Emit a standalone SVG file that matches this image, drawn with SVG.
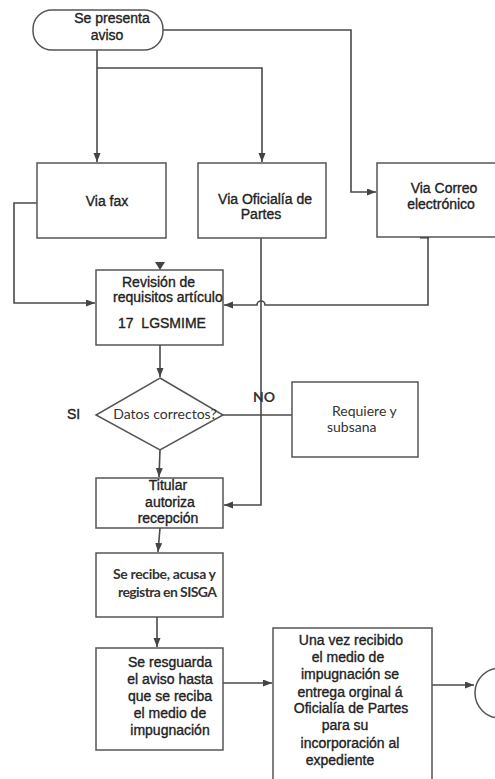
<svg xmlns="http://www.w3.org/2000/svg" width="495" height="779" viewBox="0 0 495 779">
  <defs>
    <marker id="arrow" markerUnits="userSpaceOnUse" markerWidth="10" markerHeight="8" refX="9" refY="3.5" orient="auto">
      <path d="M0,0 L9,3.5 L0,7 z" fill="#444"/>
    </marker>
    <style>
      .box { fill: #fff; stroke: #555; stroke-width: 1.5; }
      .line { fill: none; stroke: #4a4a4a; stroke-width: 1.6; }
      .arr { marker-end: url(#arrow); }
      .t { font-family: "Liberation Sans", Arial, sans-serif; font-size: 14px; fill: #222; stroke: #222; stroke-width: 0.35; }
      .c { font-family: Lato, "Open Sans", sans-serif; font-size: 14px; fill: #333; }
      .mid { text-anchor: middle; }
    </style>
  </defs>

  <rect width="495" height="779" fill="#fff"/>

  <!-- connectors -->
  <g id="connectors">
    <path class="line arr" d="M97,50 V162"/>
    <path class="line arr" d="M97,68 H262 V162"/>
    <path class="line arr" d="M163,30 H351 V192 H376"/>
    <path class="line arr" d="M37,203 H14 V303 H95"/>
    <path class="line arr" d="M428,237 V305 H265 A4,4 0 0 0 257,305 H224"/>
    <path class="line arr" d="M261,238 V505 H224"/>
    <path class="line arr" d="M160,345 V377"/>
    <path class="line" d="M223,415 H292"/>
    <path class="line arr" d="M160,450 L159,477"/>
    <path class="line arr" d="M160,528 L158,552"/>
    <path class="line arr" d="M157,617 V647"/>
    <path class="line arr" d="M223,683 H272"/>
    <path class="line arr" d="M422,685 H474"/>
    <path d="M155,262 L165,262 L160,270 z" fill="#444"/>
    <path d="M420,237 H429" stroke="#333" stroke-width="3"/>
  </g>

  <g id="start">
    <rect class="box" x="33" y="10" width="130" height="40" rx="19" ry="19"/>
    <text class="t mid" x="112" y="23">Se presenta</text>
    <text class="t mid" x="107" y="40">aviso</text>
  </g>

  <g id="via-fax">
    <rect class="box" x="37" y="163" width="129" height="75"/>
    <text class="t mid" x="107" y="206">Via fax</text>
  </g>

  <g id="via-oficialia">
    <rect class="box" x="198" y="163" width="128" height="75"/>
    <text class="t mid" x="265" y="204">Via Oficialía de</text>
    <text class="t mid" x="261" y="219">Partes</text>
  </g>

  <g id="via-correo">
    <rect class="box" x="377" y="163" width="130" height="74"/>
    <text class="t mid" x="444" y="193">Via Correo</text>
    <text class="t mid" x="441" y="209">electrónico</text>
  </g>

  <g id="revision">
    <rect class="box" x="96" y="270" width="127" height="75"/>
    <text class="t" x="122" y="287">Revisión de</text>
    <text class="t" x="113" y="302">requisitos artículo</text>
    <text class="t" x="118" y="328" xml:space="preserve">17  LGSMIME</text>
  </g>

  <g id="datos-correctos">
    <polygon class="box" points="160,378 223,415 160,450 96,415"/>
    <text class="c mid" x="165" y="419" font-size="13">Datos correctos?</text>
    <text class="t" x="67" y="419">SI</text>
    <text class="c" x="253" y="402" font-weight="bold" fill="#444">NO</text>
  </g>

  <g id="requiere">
    <rect class="box" x="292" y="382" width="126" height="75"/>
    <text class="c" x="332" y="416">Requiere y</text>
    <text class="c" x="327" y="432">subsana</text>
  </g>

  <g id="titular">
    <rect class="box" x="96" y="478" width="127" height="50"/>
    <text class="t mid" x="168" y="490">Titular</text>
    <text class="t mid" x="170" y="507">autoriza</text>
    <text class="t mid" x="168" y="523">recepción</text>
  </g>

  <g id="se-recibe">
    <rect class="box" x="96" y="553" width="127" height="64"/>
    <text class="c" x="113" y="579" font-size="13" font-weight="bold" fill="#222" textLength="103">Se recibe, acusa y</text>
    <text class="c" x="118" y="597" font-size="13" font-weight="bold" fill="#222" textLength="99">registra en SISGA</text>
  </g>

  <g id="se-resguarda">
    <rect class="box" x="96" y="648" width="127" height="102"/>
    <text class="t mid" x="170" y="667">Se resguarda</text>
    <text class="t mid" x="170" y="684">el aviso hasta</text>
    <text class="t mid" x="170" y="701">que se reciba</text>
    <text class="t mid" x="170" y="718">el medio de</text>
    <text class="t mid" x="170" y="735">impugnación</text>
  </g>

  <g id="una-vez">
    <rect class="box" x="273" y="628" width="159" height="170"/>
    <text class="t mid" x="351" y="645">Una vez recibido</text>
    <text class="t mid" x="348" y="662">el medio de</text>
    <text class="t mid" x="350" y="679">impugnación se</text>
    <text class="t mid" x="350" y="697">entrega orginal á</text>
    <text class="t mid" x="351" y="713">Oficialía de Partes</text>
    <text class="t mid" x="345" y="730">para su</text>
    <text class="t mid" x="350" y="748">incorporación al</text>
    <text class="t mid" x="340" y="765">expediente</text>
  </g>

  <g id="end">
    <circle class="box" cx="500" cy="693" r="25"/>
  </g>
</svg>
